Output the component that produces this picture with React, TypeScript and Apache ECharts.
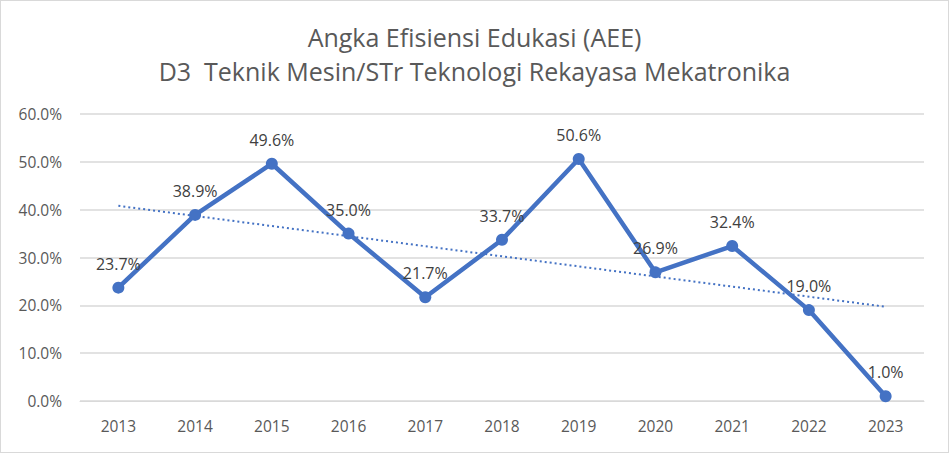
import React, { useEffect, useRef } from "react";
import * as echarts from "echarts";

const years = ["2013", "2014", "2015", "2016", "2017", "2018", "2019", "2020", "2021", "2022", "2023"];
const aee = [23.7, 38.9, 49.6, 35.0, 21.7, 33.7, 50.6, 26.9, 32.4, 19.0, 1.0];
const trendStart = 40.8;
const trendEnd = 19.7;
const titleLines = ["Angka Efisiensi Edukasi (AEE)", "D3  Teknik Mesin/STr Teknologi Rekayasa Mekatronika"];

export default function App() {
  const ref = useRef<HTMLDivElement>(null);
  useEffect(() => {
    if (!ref.current) return;
    const chart = echarts.init(ref.current, null, { renderer: "svg" });
    const font = "'Open Sans', 'Noto Sans', sans-serif";
    chart.setOption({
      animation: false,
      backgroundColor: "#ffffff",
      title: {
        text: titleLines.join("\n"),
        left: "center",
        top: 14,
        textStyle: {
          fontFamily: font,
          fontSize: 25,
          fontWeight: "normal",
          color: "#595959",
          lineHeight: 34,
        },
      },
      grid: { left: 79, right: 24, top: 113, bottom: 51 },
      xAxis: {
        type: "category",
        data: years,
        boundaryGap: true,
        axisLine: { lineStyle: { color: "#d9d9d9", width: 1 } },
        axisTick: { show: false },
        axisLabel: { color: "#595959", fontFamily: font, fontSize: 15.5, margin: 17 },
      },
      yAxis: {
        type: "value",
        min: 0,
        max: 60,
        interval: 10,
        axisLine: { show: false },
        axisTick: { show: false },
        splitLine: { lineStyle: { color: "#d9d9d9", width: 1.5 } },
        axisLabel: {
          color: "#595959",
          fontFamily: font,
          fontSize: 15.5,
          margin: 18,
          formatter: (v: number) => v.toFixed(1) + "%",
        },
      },
      series: [
        {
          type: "line",
          data: aee,
          symbol: "circle",
          symbolSize: 12,
          lineStyle: { color: "#4472C4", width: 4.5 },
          itemStyle: { color: "#4472C4" },
          label: {
            show: true,
            position: "top",
            distance: 10,
            color: "#404040",
            fontFamily: font,
            fontSize: 16,
            formatter: (p: any) => p.value.toFixed(1) + "%",
          },
          z: 3,
        },
        {
          type: "line",
          data: [
            [years[0], trendStart],
            [years[years.length - 1], trendEnd],
          ],
          symbol: "none",
          lineStyle: { color: "#4472C4", width: 2, type: [2, 3] },
          z: 2,
          silent: true,
        },
      ],
    });
    return () => chart.dispose();
  }, []);
  return (
    <div
      ref={ref}
      style={{
        position: "fixed",
        left: 0,
        top: 0,
        width: 949,
        height: 453,
        boxSizing: "border-box",
        border: "1px solid #d9d9d9",
      }}
    />
  );
}
